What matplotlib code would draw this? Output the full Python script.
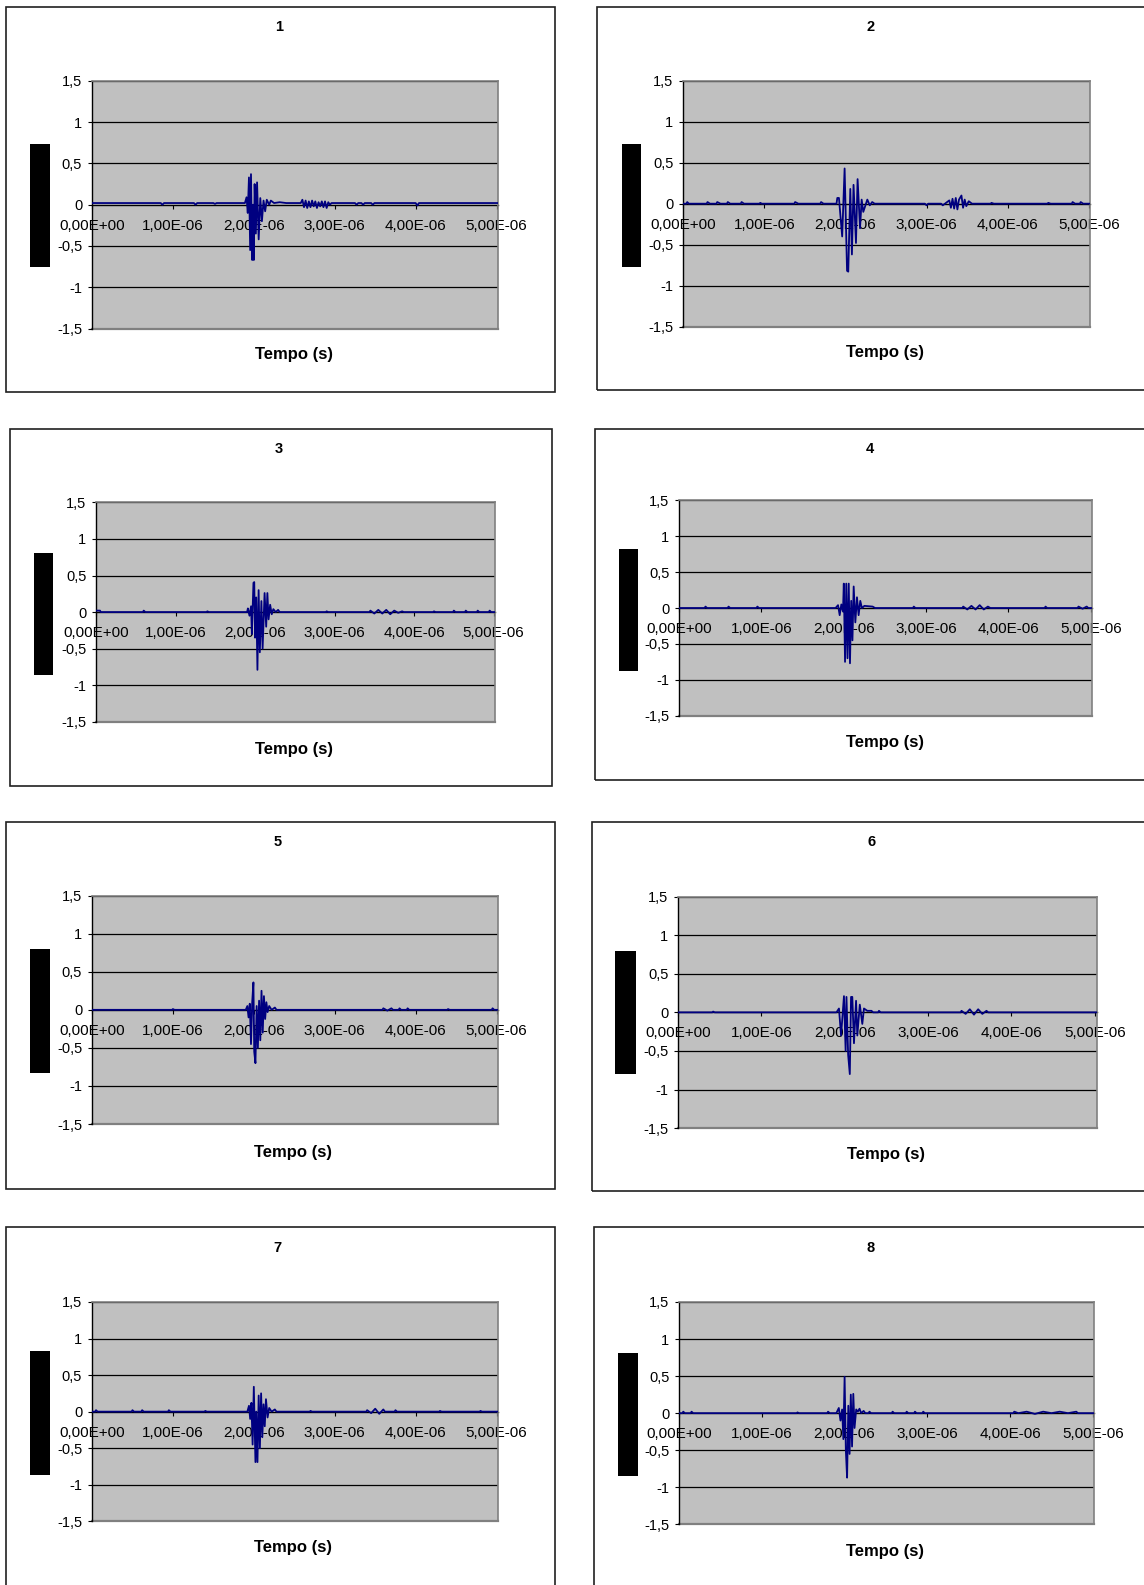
import matplotlib
matplotlib.use('Agg')
import matplotlib.pyplot as plt
from matplotlib.patches import Rectangle

plt.rcParams['font.family'] = ['Liberation Sans', 'DejaVu Sans']

# time in microseconds, amplitude
p1 = [(0.00, 0.02), (0.85, 0.02), (0.87, 0.0), (0.89, 0.02), (1.26, 0.02), (1.28, 0.0), (1.30, 0.02),
      (1.50, 0.02), (1.52, 0.01), (1.54, 0.02), (1.89, 0.02), (1.91, 0.09), (1.925, -0.10), (1.94, 0.33),
      (1.955, -0.55), (1.965, 0.37), (1.98, -0.67), (1.99, 0.0), (2.00, -0.67), (2.01, 0.25), (2.025, -0.35),
      (2.04, 0.27), (2.06, -0.42), (2.08, 0.08), (2.10, -0.20), (2.12, 0.05), (2.14, -0.08), (2.16, 0.06),
      (2.19, 0.0), (2.21, 0.05), (2.25, 0.02), (2.32, 0.03), (2.40, 0.02), (2.58, 0.02), (2.60, 0.06),
      (2.62, -0.03), (2.64, 0.05), (2.66, -0.04), (2.68, 0.04), (2.70, -0.03), (2.72, 0.05), (2.74, -0.02),
      (2.76, 0.04), (2.78, -0.04), (2.80, 0.03), (2.82, -0.02), (2.84, 0.04), (2.86, -0.03), (2.88, 0.04),
      (2.90, -0.04), (2.92, 0.03), (2.94, 0.0), (2.96, 0.02), (3.25, 0.02), (3.27, 0.0), (3.29, 0.02),
      (3.33, 0.02), (3.35, 0.0), (3.37, 0.02), (3.45, 0.02), (3.47, 0.0), (3.49, 0.02), (4.00, 0.02),
      (4.02, -0.01), (4.04, 0.02), (5.02, 0.02)]

p2 = [(0.00, 0.0), (0.04, 0.0), (0.05, 0.02), (0.07, 0.0), (0.29, 0.0), (0.30, 0.02), (0.33, 0.0),
      (0.41, 0.0), (0.42, 0.02), (0.46, 0.0), (0.54, 0.0), (0.55, 0.02), (0.58, 0.0), (0.71, 0.0),
      (0.72, 0.02), (0.75, 0.0), (0.94, 0.0), (0.95, 0.01), (0.97, 0.0), (1.37, 0.0), (1.38, 0.02),
      (1.42, 0.0), (1.69, 0.0), (1.70, 0.02), (1.73, 0.0), (1.89, 0.0), (1.90, 0.07), (1.92, 0.07),
      (1.96, -0.40), (1.99, 0.43), (2.02, -0.82), (2.035, -0.83), (2.06, 0.18), (2.08, -0.62), (2.10, 0.23),
      (2.13, -0.48), (2.15, 0.30), (2.18, -0.30), (2.20, 0.05), (2.22, -0.10), (2.27, 0.05), (2.30, -0.02),
      (2.33, 0.02), (2.36, 0.0), (2.98, 0.0), (3.00, -0.02), (3.02, 0.0), (3.18, 0.0), (3.20, -0.02),
      (3.28, 0.04), (3.30, -0.05), (3.32, 0.06), (3.34, -0.06), (3.36, 0.07), (3.38, -0.07), (3.40, 0.05),
      (3.43, 0.10), (3.45, -0.05), (3.47, 0.05), (3.49, -0.03), (3.52, 0.03), (3.56, 0.0), (3.79, 0.0),
      (3.80, 0.01), (3.83, 0.0), (4.49, 0.0), (4.50, 0.01), (4.53, 0.0), (4.79, 0.0), (4.80, 0.02),
      (4.83, 0.0), (4.89, 0.0), (4.90, 0.02), (4.93, 0.0), (5.02, 0.0)]

p3 = [(0.00, 0.02), (0.05, 0.02), (0.06, 0.0), (0.59, 0.0), (0.60, 0.02), (0.62, 0.0), (1.39, 0.0),
      (1.40, 0.01), (1.42, 0.0), (1.90, 0.0), (1.91, 0.05), (1.93, -0.05), (1.95, 0.08), (1.96, -0.30),
      (1.98, 0.40), (1.99, 0.41), (2.00, -0.35), (2.015, 0.20), (2.03, -0.79), (2.045, 0.30), (2.06, -0.55),
      (2.08, 0.15), (2.095, -0.50), (2.12, 0.26), (2.14, -0.20), (2.155, 0.26), (2.17, -0.10), (2.19, 0.10),
      (2.21, -0.03), (2.23, 0.04), (2.26, 0.0), (2.29, 0.03), (2.31, 0.0), (2.89, 0.0), (2.90, 0.01),
      (2.92, 0.0), (3.44, 0.0), (3.45, 0.02), (3.50, -0.02), (3.55, 0.03), (3.60, -0.02), (3.65, 0.03),
      (3.70, -0.03), (3.75, 0.02), (3.80, -0.01), (3.85, 0.01), (3.87, 0.0), (4.24, 0.0), (4.25, 0.01),
      (4.27, 0.0), (4.49, 0.0), (4.50, 0.02), (4.52, 0.0), (4.64, 0.0), (4.65, 0.02), (4.67, 0.0),
      (4.79, 0.0), (4.80, 0.02), (4.82, 0.0), (4.94, 0.0), (4.95, 0.02), (4.97, 0.0), (5.02, 0.0)]

p4 = [(0.00, 0.0), (0.31, 0.0), (0.32, 0.02), (0.34, 0.0), (0.59, 0.0), (0.60, 0.02), (0.62, 0.0),
      (0.94, 0.0), (0.95, 0.02), (0.97, 0.0), (1.90, 0.0), (1.93, 0.04), (1.95, -0.10), (1.97, 0.05),
      (1.99, -0.05), (2.00, 0.34), (2.015, -0.75), (2.03, 0.34), (2.045, -0.70), (2.06, 0.34), (2.075, -0.77),
      (2.09, 0.10), (2.105, -0.45), (2.12, 0.30), (2.14, -0.20), (2.16, 0.15), (2.18, -0.10), (2.20, 0.10),
      (2.22, 0.0), (2.25, 0.03), (2.35, 0.02), (2.38, 0.0), (2.84, 0.0), (2.85, 0.02), (2.87, 0.0),
      (3.44, 0.0), (3.45, 0.02), (3.50, -0.02), (3.55, 0.03), (3.60, -0.02), (3.65, 0.04), (3.70, -0.02),
      (3.75, 0.02), (3.78, 0.0), (4.44, 0.0), (4.45, 0.02), (4.47, 0.0), (4.84, 0.0), (4.85, 0.02),
      (4.90, -0.01), (4.95, 0.02), (4.97, 0.0), (5.02, 0.0)]

p5 = [(0.00, 0.0), (0.99, 0.0), (1.00, 0.01), (1.02, 0.0), (1.90, 0.0), (1.92, 0.05), (1.935, -0.10),
      (1.95, 0.08), (1.965, -0.45), (1.98, 0.10), (1.995, 0.36), (2.005, -0.55), (2.02, -0.70),
      (2.035, 0.05), (2.05, -0.50), (2.065, 0.12), (2.08, -0.40), (2.095, 0.25), (2.11, -0.30),
      (2.125, 0.18), (2.14, -0.12), (2.155, 0.10), (2.17, -0.03), (2.19, 0.05), (2.22, 0.0), (2.26, 0.03),
      (2.28, 0.0), (3.59, 0.0), (3.60, 0.02), (3.65, -0.01), (3.70, 0.02), (3.72, 0.0), (3.79, 0.0),
      (3.80, 0.02), (3.82, 0.0), (3.89, 0.0), (3.90, 0.02), (3.92, 0.0), (4.39, 0.0), (4.40, 0.01),
      (4.42, 0.0), (4.94, 0.0), (4.95, 0.02), (4.97, 0.0), (5.02, 0.0)]

p6 = [(0.00, 0.0), (0.41, 0.0), (0.42, 0.01), (0.44, 0.0), (1.90, 0.0), (1.93, 0.05),
      (1.955, -0.30), (1.99, 0.21), (2.01, -0.50), (2.02, 0.20), (2.04, -0.55), (2.06, -0.80), (2.075, 0.20),
      (2.09, 0.20), (2.11, -0.40), (2.135, 0.15), (2.15, -0.30), (2.18, 0.10), (2.21, -0.15), (2.23, 0.05),
      (2.27, 0.02), (2.32, 0.02), (2.34, 0.0), (2.40, 0.0), (2.41, 0.02), (2.43, 0.0), (3.39, 0.0),
      (3.40, 0.02), (3.45, -0.02), (3.50, 0.04), (3.55, -0.03), (3.60, 0.04), (3.65, -0.02), (3.70, 0.02),
      (3.72, 0.0), (5.02, 0.0)]

p7 = [(0.00, 0.0), (0.04, 0.0), (0.05, 0.02), (0.07, 0.0), (0.49, 0.0), (0.50, 0.02), (0.52, 0.0),
      (0.61, 0.0), (0.62, 0.02), (0.64, 0.0), (0.94, 0.0), (0.95, 0.02), (0.97, 0.0), (1.39, 0.0),
      (1.40, 0.01), (1.42, 0.0), (1.92, 0.0), (1.94, 0.08), (1.955, -0.10), (1.97, 0.12), (1.985, -0.45),
      (2.00, 0.34), (2.02, -0.69), (2.03, 0.0), (2.045, -0.69), (2.06, 0.22), (2.075, -0.50), (2.09, 0.25),
      (2.105, -0.35), (2.12, 0.10), (2.135, -0.20), (2.15, 0.17), (2.17, -0.08), (2.19, 0.05), (2.22, 0.0),
      (2.26, 0.03), (2.28, 0.0), (2.69, 0.0), (2.70, 0.01), (2.72, 0.0), (3.39, 0.0), (3.40, 0.02),
      (3.45, -0.02), (3.50, 0.04), (3.55, -0.03), (3.60, 0.03), (3.62, 0.0), (3.74, 0.0), (3.75, 0.02),
      (3.77, 0.0), (4.29, 0.0), (4.30, 0.01), (4.32, 0.0), (4.79, 0.0), (4.80, 0.01), (4.82, 0.0),
      (5.02, 0.0)]

p8 = [(0.00, 0.0), (0.04, 0.0), (0.05, 0.02), (0.07, 0.0), (0.14, 0.0), (0.15, 0.02), (0.17, 0.0),
      (1.42, 0.0), (1.43, 0.01), (1.45, 0.0), (1.79, 0.0), (1.80, 0.02), (1.82, 0.0), (1.90, 0.0),
      (1.93, 0.07), (1.95, -0.10), (1.97, 0.05), (1.985, -0.35), (2.00, 0.49), (2.015, -0.50), (2.03, -0.87),
      (2.045, 0.10), (2.06, -0.55), (2.075, 0.25), (2.09, -0.45), (2.105, 0.26), (2.12, -0.20), (2.14, 0.05),
      (2.16, 0.02), (2.18, 0.06), (2.20, 0.0), (2.23, 0.03), (2.25, 0.0), (2.29, 0.0), (2.30, 0.02),
      (2.32, 0.0), (2.57, 0.0), (2.58, 0.02), (2.60, 0.0), (2.74, 0.0), (2.75, 0.02), (2.77, 0.0),
      (2.84, 0.0), (2.85, 0.02), (2.87, 0.0), (2.94, 0.0), (2.95, 0.02), (2.97, 0.0), (4.04, 0.0),
      (4.05, 0.02), (4.10, 0.0), (4.20, 0.02), (4.30, -0.01), (4.40, 0.02), (4.50, 0.0), (4.60, 0.02),
      (4.70, 0.0), (4.80, 0.02), (4.82, 0.0), (5.02, 0.0)]

series = [p1, p2, p3, p4, p5, p6, p7, p8]
titles = ['1', '2', '3', '4', '5', '6', '7', '8']
xticks = [0, 1, 2, 3, 4, 5]
xtick_labels = ['0,00E+00', '1,00E-06', '2,00E-06', '3,00E-06', '4,00E-06', '5,00E-06']
yticks = [-1.5, -1, -0.5, 0, 0.5, 1, 1.5]
ytick_labels = ['-1,5', '-1', '-0,5', '0', '0,5', '1', '1,5']

W, H = 1132.0, 1568.0
# layout in pixels of the reference: box, plot area, black label block, title xy, xlabel xy
layout = [
    ((6, 7, 549, 388), (91, 80, 493, 325), (30, 142, 49, 264), (276, 27), (291, 351)),
    ((591, 7, 1140, 386), (676, 80, 1079, 323), (615, 142, 634, 264), (861, 27), (876, 349)),
    ((10, 424, 546, 778), (95, 497, 490, 714), (34, 547, 52, 668), (276, 444), (291, 741)),
    ((589, 424, 1140, 772), (672, 495, 1081, 708), (613, 543, 631, 664), (861, 444), (876, 735)),
    ((6, 813, 549, 1176), (91, 886, 493, 1112), (30, 939, 49, 1061), (275, 833), (290, 1140)),
    ((586, 813, 1140, 1178), (671, 887, 1085, 1116), (609, 941, 629, 1062), (862, 833), (877, 1142)),
    ((6, 1214, 549, 1580), (91, 1288, 493, 1505), (30, 1337, 49, 1459), (275, 1235), (290, 1531)),
    ((588, 1214, 1140, 1580), (672, 1288, 1083, 1508), (612, 1338, 631, 1460), (861, 1235), (876, 1535)),
]


def frac_rect(r):
    x0, y0, x1, y1 = r
    return [x0 / W, 1 - y1 / H, (x1 - x0) / W, (y1 - y0) / H]


fig = plt.figure(figsize=(11.44, 15.85), dpi=100)

for pts, title, (box, area, blk, tpos, lpos) in zip(series, titles, layout):
    bx = frac_rect(box)
    fig.patches.append(Rectangle((bx[0], bx[1]), bx[2], bx[3], transform=fig.transFigure,
                                 fill=False, edgecolor='#202020', linewidth=1.2))
    bk = frac_rect(blk)
    fig.patches.append(Rectangle((bk[0], bk[1]), bk[2], bk[3], transform=fig.transFigure,
                                 facecolor='black', edgecolor='none'))
    fig.text(tpos[0] / W, 1 - tpos[1] / H, title, ha='center', va='center',
             fontsize=10.5, fontweight='bold')
    fig.text(lpos[0] / W, 1 - lpos[1] / H, 'Tempo (s)', ha='center', va='center',
             fontsize=12, fontweight='bold')

    ax = fig.add_axes(frac_rect(area))
    ax.set_facecolor('#c0c0c0')
    t = [p[0] for p in pts]
    v = [p[1] for p in pts]
    for y in yticks:
        if y not in (-1.5, 0):
            ax.axhline(y, color='black', linewidth=0.9, zorder=1)
    ax.plot(t, v, color='#000080', linewidth=1.3, zorder=3)
    ax.set_xlim(0, 5.02)
    ax.set_ylim(-1.5, 1.5)

    for s in ['top', 'right']:
        ax.spines[s].set_color('#808080')
        ax.spines[s].set_linewidth(1.2)
    ax.spines['left'].set_color('black')
    ax.spines['left'].set_linewidth(1)
    ax.spines['bottom'].set_position(('data', 0))
    ax.spines['bottom'].set_color('black')
    ax.spines['bottom'].set_linewidth(1)
    ax.spines['bottom'].set_zorder(2)
    ax.axhline(-1.5, color='#808080', linewidth=1.6, clip_on=False, zorder=1)

    ax.set_xticks(xticks)
    ax.set_xticklabels(xtick_labels)
    ax.set_yticks(yticks)
    ax.set_yticklabels(ytick_labels)
    ax.tick_params(axis='x', direction='out', length=3, pad=7, labelsize=11, width=0.8)
    ax.tick_params(axis='y', direction='out', length=3, pad=4, labelsize=10.5, width=0.8)

fig.savefig('out.png', dpi=100)
